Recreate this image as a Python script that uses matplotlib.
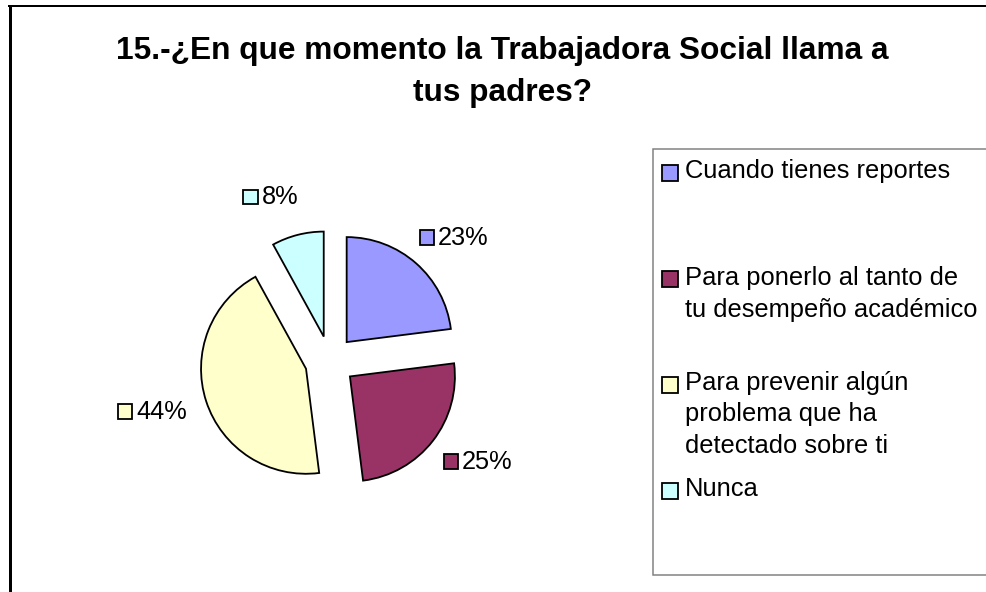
import numpy as np
import matplotlib
matplotlib.use("Agg")
import matplotlib.pyplot as plt
from matplotlib.patches import Rectangle
from matplotlib.lines import Line2D
from matplotlib.offsetbox import AnnotationBbox, HPacker, DrawingArea, TextArea

# ---- data ----
title_lines = ["15.-¿En que momento la Trabajadora Social llama a", "tus padres?"]
categories = ["Cuando tienes reportes",
              "Para ponerlo al tanto de\ntu desempeño académico",
              "Para prevenir algún\nproblema que ha\ndetectado sobre ti",
              "Nunca"]
values = [23, 25, 44, 8]
pct_labels = ["23%", "25%", "44%", "8%"]
colors = ["#9999FF", "#993366", "#FFFFCC", "#CCFFFF"]

W, H = 987, 592
DPI = 100
FONT = "Liberation Sans"
fig = plt.figure(figsize=(W / DPI, H / DPI), dpi=DPI)
fig.patch.set_facecolor("white")


def fx(x):
    return x / W


def fy(y):
    return 1 - y / H


PT = 72 / DPI  # points per pixel

# chart frame (left and top edges visible)
fig.add_artist(Line2D([fx(9.5), fx(9.5)], [fy(6), fy(600)], color="black", lw=3 * PT,
                      transform=fig.transFigure, solid_capstyle="butt"))
fig.add_artist(Line2D([fx(8), fx(1000)], [fy(6), fy(6)], color="black", lw=2 * PT,
                      transform=fig.transFigure, solid_capstyle="butt"))

# title
fig.text(fx(502), fy(59), title_lines[0], ha="center", va="baseline",
         fontsize=22.8, fontweight="bold", family=FONT)
fig.text(fx(503), fy(101), title_lines[1], ha="center", va="baseline",
         fontsize=22.8, fontweight="bold", family=FONT)

# ---- pie ----
R_PX = 105.0
cx, cy = 330.0, 361.0
x0, x1, y0, y1 = 100, 560, 150, 572
ax = fig.add_axes([fx(x0), fy(y1), (x1 - x0) / W, (y1 - y0) / H])
ax.axis("off")

explode = [0.24] * len(values)
wedges, _ = ax.pie(values, colors=colors, startangle=90, counterclock=False,
                   explode=explode, radius=1.0,
                   wedgeprops=dict(edgecolor="black", linewidth=1.3))
ax.set_xlim(-(cx - x0) / R_PX, (x1 - cx) / R_PX)
ax.set_ylim(-(y1 - cy) / R_PX, (cy - y0) / R_PX)
ax.set_aspect("auto")

# percentage labels with colour keys
LABEL_R = 1.45
nudges_px = [(0, 0), (0, 0), (0, 0), (-15, -5)]
for w, lab, col, (nx, ny) in zip(wedges, pct_labels, colors, nudges_px):
    theta = np.deg2rad((w.theta1 + w.theta2) / 2)
    c, s = np.cos(theta), np.sin(theta)
    px = LABEL_R * c + nx / R_PX
    py = LABEL_R * s - ny / R_PX
    da = DrawingArea(16 * PT, 16 * PT, 0, 0)
    da.add_artist(Rectangle((0.5, 0.5), 16 * PT - 1, 16 * PT - 1, facecolor=col,
                            edgecolor="black", lw=1.3))
    ta = TextArea(lab, textprops=dict(fontsize=18.3, family=FONT, color="black"))
    pack = HPacker(children=[da, ta], align="center", pad=0, sep=3 * PT)
    ab = AnnotationBbox(pack, (px, py), xycoords="data", frameon=False,
                        box_alignment=(0.5 - 0.5 * c, 0.5 - 0.5 * s), pad=0)
    ax.add_artist(ab)

# ---- legend ----
fig.add_artist(Rectangle((fx(653), fy(575)), fx(1100) - fx(653), fy(149) - fy(575),
                         transform=fig.transFigure, facecolor="white",
                         edgecolor="#808080", lw=1.5 * PT))
key_centers = [173, 279, 385, 491]
first_baselines = [178, 285, 390, 496]
line_pitch = 31.5
for cat, col, kc, bl in zip(categories, colors, key_centers, first_baselines):
    fig.add_artist(Rectangle((fx(662), fy(kc + 8)), 16 / W, 16 / H,
                             transform=fig.transFigure, facecolor=col,
                             edgecolor="black", lw=1.3))
    for i, line in enumerate(cat.split("\n")):
        fig.text(fx(685), fy(bl + i * line_pitch), line, ha="left", va="baseline",
                 fontsize=18.4, family=FONT)

fig.savefig("out.png", dpi=DPI, facecolor="white")
